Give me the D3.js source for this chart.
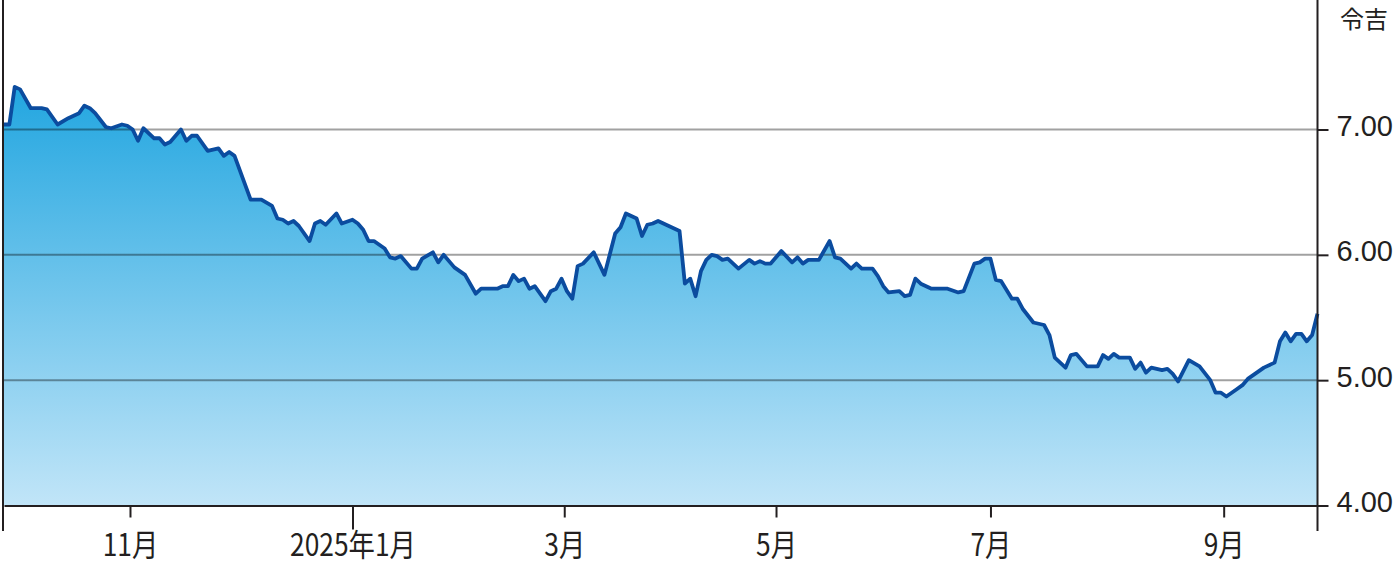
<!DOCTYPE html>
<html><head><meta charset="utf-8">
<script src="https://cdn.jsdelivr.net/npm/d3@7"></script>
<style>
html,body{margin:0;padding:0;background:#fff;}
svg{display:block;}
</style></head>
<body>
<svg id="chart" width="1398" height="564"></svg>
<script>
// trading-day index (0 = start of Oct 2024) and ringgit value
const days = [0,1,2,3,5,7,8,10,12,14,15,16,17,19,20,22,23,24,25,26,28,29,30,31,33,34,35,36,38,40,41,42,43,46,48,50,51,52,53,54,55,57,58,59,60,62,63,65,66,67,68,69,71,72,73,74,76,77,78,80,81,82,84,86,88,89,92,93,94,95,96,97,98,99,101,102,103,104,105,106,107,108,110,112,114,115,116,118,119,120,121,122,126,127,128,129,130,131,132,133,134,135,137,139,140,141,142,143,145,147,148,149,150,152,154,155,156,158,159,160,162,163,164,165,167,168,169,170,171,173,176,178,179,181,182,183,184,185,186,188,189,190,192,194,195,196,198,199,200,202,204,205,206,207,208,210,211,212,213,214,216,217,218,219,221,223,225,226,227,228,230,231,232,234,235,237,238,239,240,241,242,243,244,245];
const values = [7.04,7.04,7.34,7.32,7.17,7.17,7.16,7.04,7.09,7.13,7.19,7.17,7.13,7.02,7.01,7.04,7.03,7.00,6.91,7.01,6.93,6.93,6.88,6.90,7.00,6.91,6.95,6.95,6.83,6.85,6.79,6.82,6.79,6.44,6.44,6.39,6.29,6.28,6.25,6.27,6.23,6.11,6.25,6.27,6.24,6.33,6.25,6.28,6.25,6.20,6.11,6.11,6.05,5.98,5.97,5.99,5.89,5.89,5.97,6.02,5.94,6.00,5.90,5.84,5.69,5.73,5.73,5.75,5.75,5.84,5.79,5.81,5.73,5.75,5.63,5.71,5.73,5.81,5.71,5.65,5.91,5.93,6.02,5.84,6.17,6.22,6.33,6.29,6.15,6.24,6.25,6.27,6.19,5.77,5.81,5.67,5.87,5.96,6.00,5.99,5.96,5.97,5.89,5.96,5.93,5.95,5.93,5.93,6.03,5.94,5.98,5.93,5.96,5.96,6.11,5.98,5.97,5.89,5.93,5.89,5.89,5.83,5.75,5.70,5.71,5.67,5.68,5.81,5.77,5.73,5.73,5.70,5.71,5.93,5.94,5.97,5.97,5.80,5.79,5.65,5.65,5.57,5.46,5.44,5.36,5.18,5.10,5.20,5.21,5.11,5.11,5.20,5.17,5.21,5.18,5.18,5.09,5.14,5.06,5.10,5.08,5.09,5.05,4.99,5.16,5.11,5.00,4.90,4.90,4.87,4.93,4.96,5.01,5.07,5.10,5.14,5.31,5.38,5.31,5.37,5.37,5.31,5.36,5.53];
const lastDay = 245;
// month boundaries (trading-day index) and their labels
const tickDays = [23.5, 65, 104.5, 144, 184, 227.5];
const tickLabels = ["11月", "2025年1月", "3月", "5月", "7月", "9月"];
const yearTick = "2025年1月";
const yTicks = [4, 5, 6, 7];
const unitLabel = "令吉";

const data = days.map((d, i) => ({d: d, v: values[i]}));

const svg = d3.select("#chart");
const x = d3.scaleLinear().domain([0, lastDay]).range([4, 1317.5]);
const y = d3.scaleLinear().domain([4, 7]).range([505.5, 129.5]);

const defs = svg.append("defs");
const grad = defs.append("linearGradient").attr("id", "fillGrad")
  .attr("gradientUnits", "userSpaceOnUse")
  .attr("x1", 0).attr("x2", 0)
  .attr("y1", y(d3.max(values))).attr("y2", y(4));
grad.append("stop").attr("offset", 0).attr("stop-color", "#22a6e0");
grad.append("stop").attr("offset", 1).attr("stop-color", "#c1e5f8");

const area = d3.area().x(p => x(p.d)).y0(y(4)).y1(p => y(p.v));
const line = d3.line().x(p => x(p.d)).y(p => y(p.v));

svg.append("path").datum(data).attr("d", area).attr("fill", "url(#fillGrad)");

// gridlines
svg.append("g").selectAll("line").data(yTicks.filter(t => t > 4)).join("line")
  .attr("x1", x(0)).attr("x2", x(lastDay))
  .attr("y1", d => y(d)).attr("y2", d => y(d))
  .attr("stroke", "#000").attr("stroke-opacity", 0.37).attr("stroke-width", 2);

svg.append("path").datum(data).attr("d", line)
  .attr("fill", "none").attr("stroke", "#0b4c9f").attr("stroke-width", 3.8)
  .attr("stroke-linejoin", "round");

const axisColor = "#231f20";

// bottom axis
const xAxis = d3.axisBottom(x).tickValues(tickDays)
  .tickFormat((d, i) => tickLabels[i]).tickSize(12).tickSizeOuter(0);
const gx = svg.append("g").attr("transform", `translate(0,${y(4)})`).call(xAxis);
gx.select(".domain").attr("stroke", axisColor).attr("stroke-width", 2);
gx.selectAll(".tick line").attr("stroke", axisColor).attr("stroke-width", 2)
  .attr("y2", (d, i) => tickLabels[i] === yearTick ? 24 : 12);
gx.selectAll(".tick text").attr("y", 51).attr("dy", 0)
  .attr("transform", "scale(0.85,1)")
  .attr("fill", axisColor)
  .style("font-family", "'Noto Sans CJK JP',sans-serif")
  .style("font-size", "31px");

// left border
svg.append("line").attr("x1", 3).attr("x2", 3).attr("y1", 0).attr("y2", 531)
  .attr("stroke", axisColor).attr("stroke-width", 2);

// right axis
const yAxis = d3.axisRight(y).tickValues(yTicks).tickFormat(d3.format(".2f"))
  .tickSize(11).tickPadding(8);
const gy = svg.append("g").attr("transform", `translate(${x(lastDay)},0)`).call(yAxis);
gy.select(".domain").remove();
gy.selectAll(".tick line").attr("stroke", axisColor).attr("stroke-width", 2);
gy.selectAll(".tick text").attr("dy", 0).attr("y", 6)
  .attr("fill", axisColor)
  .style("font-family", "'Liberation Sans',Arial,sans-serif").style("font-size", "29px");
svg.append("line").attr("x1", x(lastDay)).attr("x2", x(lastDay)).attr("y1", 0).attr("y2", 531)
  .attr("stroke", axisColor).attr("stroke-width", 2);

svg.append("text").attr("x", 1340).attr("y", 28).text(unitLabel)
  .attr("fill", axisColor)
  .style("font-family", "'Noto Sans CJK JP',sans-serif").style("font-size", "24px");
</script>
</body></html>
